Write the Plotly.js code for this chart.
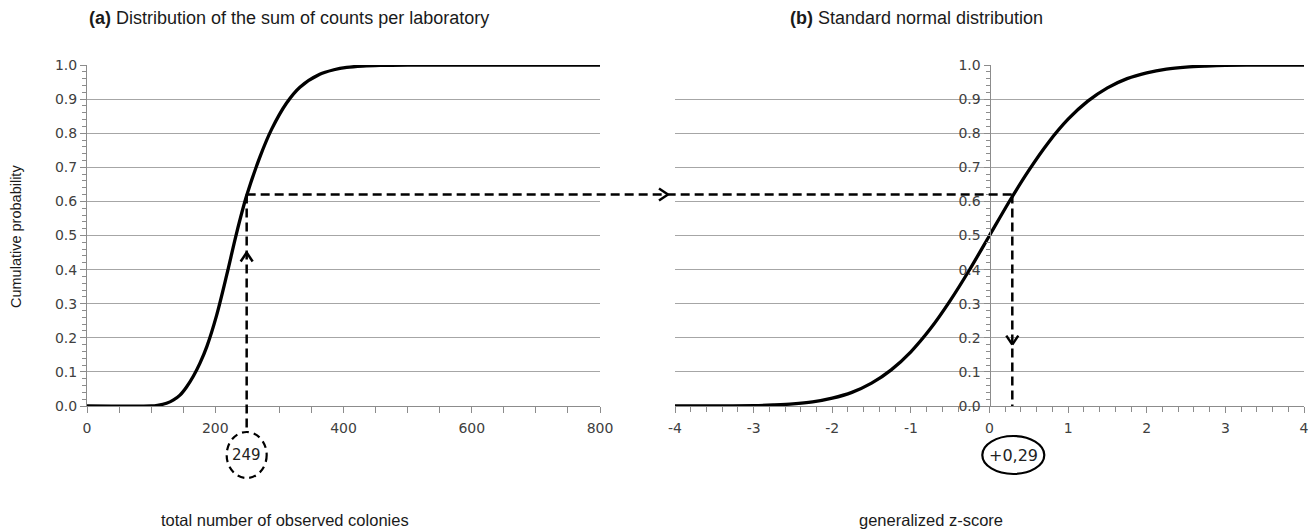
<!DOCTYPE html>
<html>
<head>
<meta charset="utf-8">
<script src="https://cdn.plot.ly/plotly-3.0.1.min.js"></script>
<style>html,body{margin:0;padding:0;background:#fff}#chart{width:1314px;height:530px}</style>
</head>
<body>
<div id="chart"></div>
<script>
// ---- data ----
const labTotals  = [0, 100, 110, 124, 135, 145, 155, 166, 176, 187, 202, 218, 233, 249, 270, 288, 311, 332, 363, 385, 405, 430, 457, 500, 800];
const labCumProb = [0, 0, 0.002, 0.008, 0.018, 0.032, 0.055, 0.088, 0.125, 0.175, 0.265, 0.385, 0.505, 0.617, 0.732, 0.812, 0.888, 0.935, 0.973, 0.986, 0.993, 0.997, 0.999, 1.0, 1.0];

const zScores = [-4, -3.5, -3, -2.75, -2.5, -2.25, -2, -1.75, -1.5, -1.25, -1, -0.75, -0.5, -0.25, 0, 0.25, 0.5, 0.75, 1, 1.25, 1.5, 1.75, 2, 2.25, 2.5, 2.75, 3, 3.5, 4];
const zCumProb = [0, 0, 0.001, 0.003, 0.006, 0.012, 0.023, 0.040, 0.067, 0.106, 0.159, 0.227, 0.309, 0.401, 0.5, 0.599, 0.691, 0.773, 0.841, 0.894, 0.933, 0.960, 0.977, 0.988, 0.994, 0.997, 0.999, 1, 1];

const labValue = 249;      // observed total
const probValue = 0.62;    // cumulative probability
const zValue = 0.29;       // generalized z-score
const labValueText = '249';
const zValueText = '+0,29';

const leftTickVals = [0, 200, 400, 600, 800];
const leftTickText = ['0', '200', '400', '600', '800'];
const rightTickVals = [-4, -3, -2, -1, 0, 1, 2, 3, 4];
const rightTickText = ['-4', '-3', '-2', '-1', '0', '1', '2', '3', '4'];
const probTickVals = [0, 0.1, 0.2, 0.3, 0.4, 0.5, 0.6, 0.7, 0.8, 0.9, 1.0];
const probTickText = ['0.0', '0.1', '0.2', '0.3', '0.4', '0.5', '0.6', '0.7', '0.8', '0.9', '1.0'];

// ---- layout geometry ----
const W = 1314, H = 530;
const xL = [87 / W, 600 / W];
const xR = [675 / W, 1304 / W];
const yD = [1 - 406 / H, 1 - 65 / H];
const rangeL = [0, 800], rangeR = [-4, 4], rangeY = [0, 1];
function toPaper(dom, rng, v) { return dom[0] + (v - rng[0]) / (rng[1] - rng[0]) * (dom[1] - dom[0]); }

const pxLab = toPaper(xL, rangeL, labValue);
const pxZ = toPaper(xR, rangeR, zValue);
const pyProb = toPaper(yD, rangeY, probValue);
const pyZero = toPaper(yD, rangeY, 0);
const pyUp = toPaper(yD, rangeY, 0.45);
const pyDown = toPaper(yD, rangeY, 0.18);
const circY = 1 - 455 / H;

const gridCol = '#a6a6a6', axCol = '#8c8c8c';
const tickFont = {family: 'DejaVu Sans, Verdana, sans-serif', size: 14, color: '#404040'};
const sans = 'Liberation Sans, Arial, sans-serif';
const dash = '9px,5px';

const traces = [
  {x: labTotals, y: labCumProb, xaxis: 'x', yaxis: 'y', mode: 'lines', line: {color: '#000', width: 3.3, shape: 'spline', smoothing: 0.9}, hoverinfo: 'skip'},
  {x: zScores, y: zCumProb, xaxis: 'x2', yaxis: 'y2', mode: 'lines', line: {color: '#000', width: 3.3, shape: 'spline', smoothing: 0.8}, hoverinfo: 'skip'}
];

function dline(x0, y0, x1, y1, d) {
  return {type: 'line', xref: 'paper', yref: 'paper', x0, y0, x1, y1, line: {color: '#000', width: 2.5, dash: d || dash}, layer: 'above'};
}
function chev(ax, ay, dx, dy) {
  return {type: 'line', xref: 'paper', yref: 'paper', xsizemode: 'pixel', ysizemode: 'pixel', xanchor: ax, yanchor: ay,
    x0: 0, y0: 0, x1: dx, y1: dy, line: {color: '#000', width: 2.5}, layer: 'above'};
}

const shapes = [
  dline(pxLab, pyProb, pxZ, pyProb),
  dline(pxLab, pyProb, pxLab, circY + 23 / H),
  dline(pxZ, pyProb, pxZ, pyZero),
  chev(pxLab, pyUp, -6, -9), chev(pxLab, pyUp, 6, -9),
  chev(xR[0] - 7 / W, pyProb, -9, 6), chev(xR[0] - 7 / W, pyProb, -9, -6),
  chev(pxZ, pyDown, -6, 9), chev(pxZ, pyDown, 6, 9),
  {type: 'circle', xref: 'paper', yref: 'paper', xsizemode: 'pixel', ysizemode: 'pixel', xanchor: pxLab, yanchor: circY,
    x0: -20, x1: 20, y0: -23, y1: 23, line: {color: '#000', width: 2.2, dash: '7px,5px'}},
  {type: 'circle', xref: 'paper', yref: 'paper', xsizemode: 'pixel', ysizemode: 'pixel', xanchor: pxZ + 1 / W, yanchor: circY,
    x0: -31, x1: 31, y0: -19, y1: 19, line: {color: '#000', width: 2.2}}
];

const titleFont = {family: sans, size: 18, color: '#1a1a1a'};
const axTitleFont = {family: sans, size: 16.5, color: '#1a1a1a'};
const annotations = [
  {text: '<b>(a)</b> Distribution of the sum of counts per laboratory', xref: 'paper', yref: 'paper', x: 289 / W, y: 1 - 18 / H, showarrow: false, font: titleFont, xanchor: 'center', yanchor: 'middle'},
  {text: '<b>(b)</b> Standard normal distribution', xref: 'paper', yref: 'paper', x: 916 / W, y: 1 - 18 / H, showarrow: false, font: titleFont, xanchor: 'center', yanchor: 'middle'},
  {text: 'total number of observed colonies', xref: 'paper', yref: 'paper', x: 285 / W, y: 1 - 520 / H, showarrow: false, font: axTitleFont, xanchor: 'center', yanchor: 'middle'},
  {text: 'generalized z-score', xref: 'paper', yref: 'paper', x: 931 / W, y: 1 - 520 / H, showarrow: false, font: axTitleFont, xanchor: 'center', yanchor: 'middle'},
  {text: 'Cumulative probability', xref: 'paper', yref: 'paper', x: 16 / W, y: 1 - 237 / H, textangle: -90, showarrow: false, font: {family: sans, size: 14.5, color: '#1a1a1a'}, xanchor: 'center', yanchor: 'middle'},
  {text: labValueText, xref: 'paper', yref: 'paper', x: pxLab, y: circY, showarrow: false, font: {family: 'DejaVu Sans, sans-serif', size: 15, color: '#222'}, xanchor: 'center', yanchor: 'middle'},
  {text: zValueText, xref: 'paper', yref: 'paper', x: pxZ + 1 / W, y: circY, showarrow: false, font: {family: 'DejaVu Sans, sans-serif', size: 16, color: '#222'}, xanchor: 'center', yanchor: 'middle'}
];

const baseY = {
  range: rangeY, tickvals: probTickVals, ticktext: probTickText,
  showgrid: true, gridcolor: gridCol, gridwidth: 1, zeroline: false,
  showline: true, linecolor: axCol, linewidth: 1, ticks: 'outside', ticklen: 6, tickcolor: axCol,
  minor: {dtick: 0.02, ticks: 'outside', ticklen: 4, tickcolor: axCol, showgrid: false},
  tickfont: tickFont, fixedrange: true
};

const layout = {
  width: W, height: H, autosize: false,
  margin: {l: 0, r: 0, t: 0, b: 0},
  paper_bgcolor: '#fff', plot_bgcolor: 'rgba(0,0,0,0)',
  showlegend: false,
  xaxis: {domain: xL, range: rangeL, anchor: 'y', tickvals: leftTickVals, ticktext: leftTickText, showgrid: false, zeroline: false,
    showline: true, linecolor: axCol, ticks: 'outside', ticklen: 6, tickcolor: axCol, ticklabelstandoff: 3,
    minor: {dtick: 50, ticks: 'outside', ticklen: 6, tickcolor: axCol, showgrid: false},
    tickfont: tickFont, fixedrange: true},
  yaxis: Object.assign({}, baseY, {domain: yD, anchor: 'x'}),
  xaxis2: {domain: xR, range: rangeR, anchor: 'y2', tickvals: rightTickVals, ticktext: rightTickText, showgrid: false, zeroline: false,
    showline: true, linecolor: axCol, ticks: 'outside', ticklen: 6, tickcolor: axCol, ticklabelstandoff: 3,
    minor: {dtick: 0.2, ticks: 'outside', ticklen: 5, tickcolor: axCol, showgrid: false},
    tickfont: tickFont, fixedrange: true},
  yaxis2: Object.assign({}, baseY, {domain: yD, anchor: 'free', position: toPaper(xR, rangeR, 0)}),
  shapes: shapes,
  annotations: annotations
};

Plotly.newPlot('chart', traces, layout, {displayModeBar: false, staticPlot: true});
</script>
</body>
</html>
